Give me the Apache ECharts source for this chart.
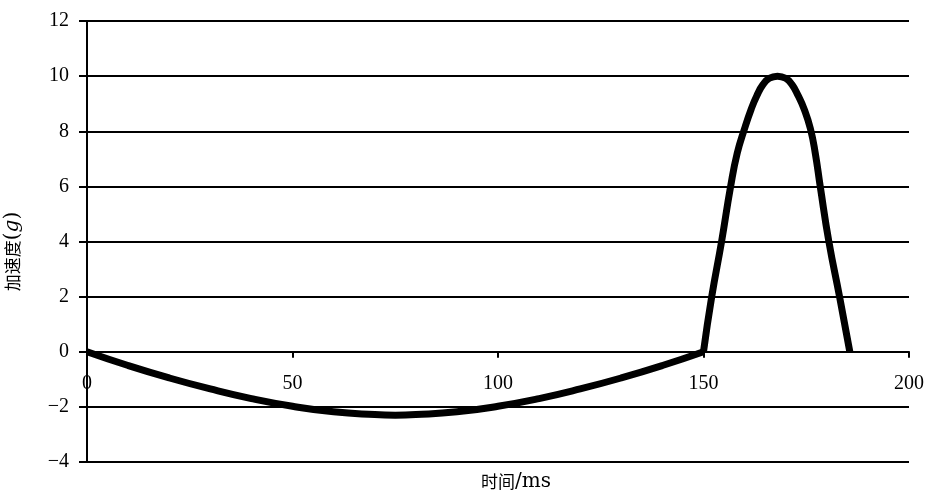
<!DOCTYPE html>
<html>
<head>
<meta charset="utf-8">
<script src="https://cdn.jsdelivr.net/npm/echarts@6/dist/echarts.min.js"></script>
<style>html,body{margin:0;padding:0;background:#fff}#c{width:928px;height:495px}</style>
</head>
<body>
<div id="c"></div>
<script>
// time (ms) and acceleration (g)
const negPhase = [
  [0, 0], [10, -0.5], [20, -0.95], [30, -1.35], [40, -1.7], [50, -1.98],
  [60, -2.18], [70, -2.28], [75, -2.3], [80, -2.28], [90, -2.18], [100, -1.98],
  [110, -1.7], [120, -1.35], [130, -0.95], [140, -0.5], [150, 0]
];
const posPhase = [
  [150, 0], [152, 2], [154.4, 4], [156.6, 6], [158.2, 7.2], [160, 8.1], [161.6, 8.8],
  [163, 9.3], [164.5, 9.7], [166, 9.92], [168, 10], [170, 9.92], [171.5, 9.7],
  [173, 9.3], [174.5, 8.8], [176, 8.1], [177.2, 7.2], [178.4, 6], [180.5, 4],
  [183.1, 2], [185.6, 0]
];
const xTicks = {min: 0, max: 200, interval: 50};
const yTicks = {min: -4, max: 12, interval: 2};
const xTitle = '{c|时间}{l|/ms}';
const yTitle = '{c|加速度}{l|(}{i|g}{l|)}';

const NUM = '"Liberation Serif", "Times New Roman", serif';
const CJK = '"Noto Sans CJK SC", sans-serif';
const titleRich = {
  c: {fontSize: 17, fontFamily: CJK, color: '#000'},
  l: {fontSize: 20, fontFamily: '"DejaVu Serif", serif', color: '#000'},
  i: {fontSize: 20, fontStyle: 'italic', fontFamily: '"DejaVu Serif", serif', color: '#000'}
};
const chart = echarts.init(document.getElementById('c'), null, {renderer: 'canvas'});
const lineStyle = {color: '#000', width: 7};
chart.setOption({
  animation: false,
  backgroundColor: '#fff',
  grid: {left: 87, right: 19, top: 21, bottom: 33, containLabel: false, outerBoundsMode: 'none'},
  xAxis: {
    type: 'value', min: xTicks.min, max: xTicks.max, interval: xTicks.interval,
    offset: -110.25,
    name: xTitle, nameLocation: 'middle', nameGap: 120,
    nameTextStyle: {color: '#000', fontSize: 17, fontFamily: CJK, rich: titleRich, padding: [0, 0, 0, 36]},
    axisLine: {onZero: false, lineStyle: {color: '#000', width: 2}},
    axisTick: {show: true, length: 6, lineStyle: {color: '#000', width: 2}},
    axisLabel: {color: '#000', fontSize: 20, fontFamily: NUM, margin: 22},
    splitLine: {show: false}
  },
  yAxis: {
    type: 'value', min: yTicks.min, max: yTicks.max, interval: yTicks.interval,
    name: yTitle, nameLocation: 'middle', nameGap: 64, nameRotate: 90,
    nameTextStyle: {color: '#000', fontSize: 17, fontFamily: CJK, rich: titleRich, padding: [0, 20, 0, 0]},
    axisLine: {show: true, lineStyle: {color: '#000', width: 2}},
    axisTick: {show: true, length: 8, lineStyle: {color: '#000', width: 2}},
    axisLabel: {color: '#000', fontSize: 20, fontFamily: NUM, margin: 18,
      formatter: v => String(v).replace('-', '\u2212')},
    splitLine: {show: true, lineStyle: {color: '#000', width: 2}}
  },
  series: [
    {type: 'line', data: negPhase, smooth: true, showSymbol: false, lineStyle, z: 5},
    {type: 'line', data: posPhase, smooth: true, showSymbol: false, lineStyle, z: 5}
  ]
});
</script>
</body>
</html>
